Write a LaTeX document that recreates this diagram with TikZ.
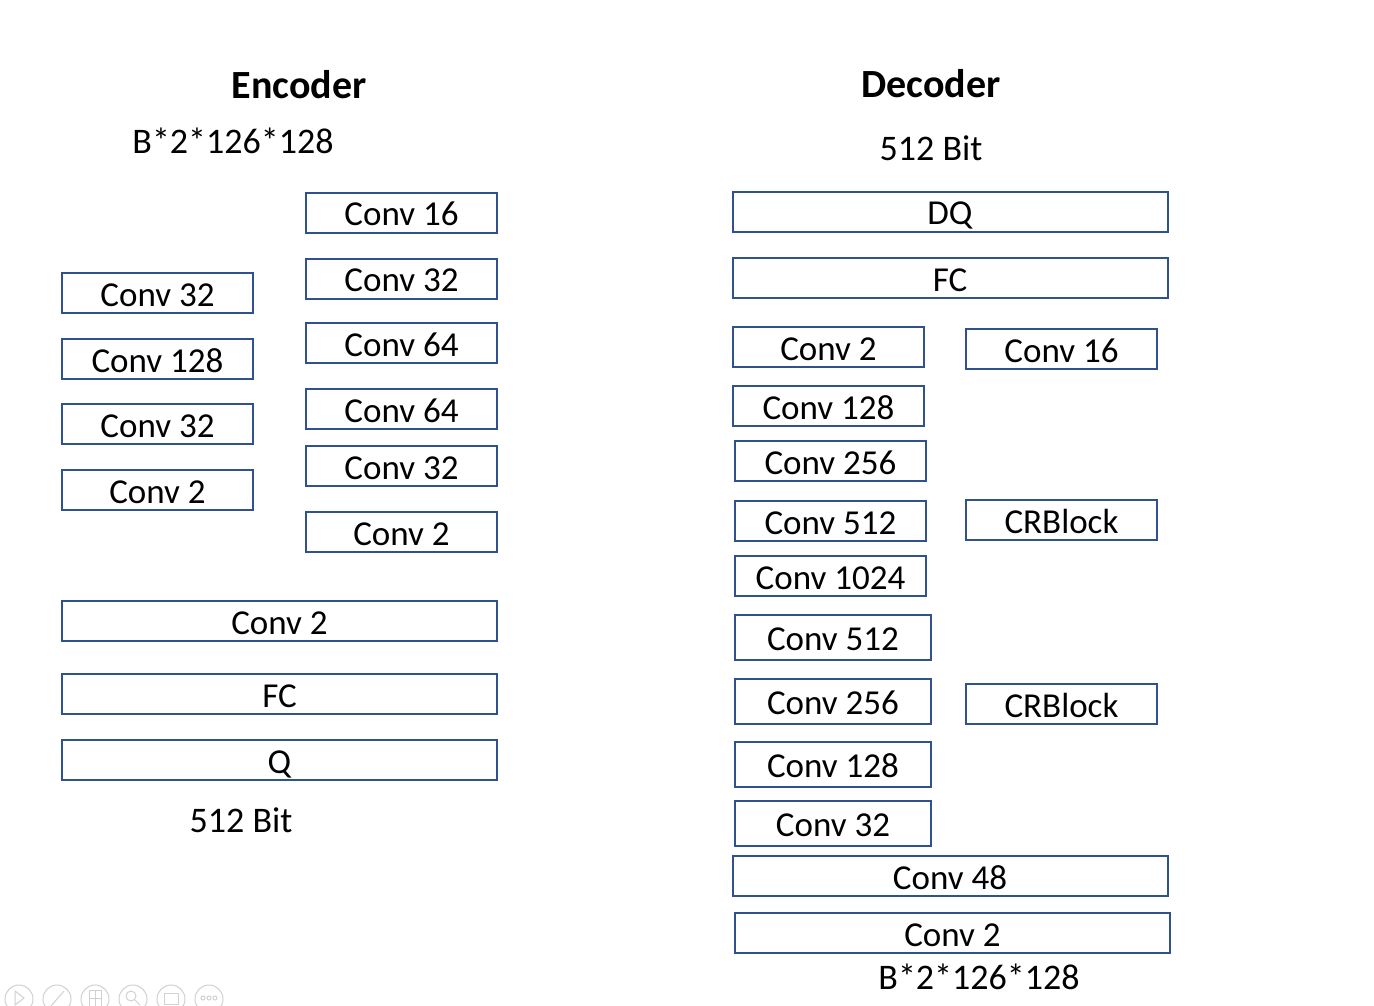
\documentclass[tikz,border=0pt]{standalone}
\usepackage{fontspec}
\setmainfont{Carlito}
\definecolor{boxblue}{HTML}{2F528F}
\begin{document}
\begin{tikzpicture}[x=1pt,y=-1pt,
  layer/.style={draw=boxblue,line width=2pt,inner sep=0pt,text height=26pt,text depth=0pt,font=\fontsize{35}{42}\selectfont},
  narrow/.style={layer,minimum width=191pt,minimum height=40pt},
  wide/.style={layer,minimum width=435pt,minimum height=40pt},
  tallbox/.style={layer,minimum width=196pt,minimum height=45pt},
  heading/.style={font=\fontsize{40}{48}\selectfont\bfseries,inner sep=0pt},
  dims/.style={font=\fontsize{36}{42}\selectfont,inner sep=0pt},
  toolbtn/.style={draw=black!18,line width=1pt}]
\fill[white] (0,0) rectangle (1374,1006);
\useasboundingbox (0,0) rectangle (1374,1006);

\node[heading] (enc) at (299,85) {Encoder};
\node[dims] (encin) at (233,141) {B*2*126*128};
\node[narrow] (e1) at (157.5,293) {Conv 32};
\node[narrow] (e2) at (157.5,359) {Conv 128};
\node[narrow] (e3) at (157.5,424) {Conv 32};
\node[narrow] (e4) at (157.5,490) {Conv 2};
\node[narrow] (r1) at (401.5,212.5) {Conv 16};
\node[narrow] (r2) at (401.5,278.5) {Conv 32};
\node[narrow] (r3) at (401.5,343) {Conv 64};
\node[narrow] (r4) at (401.5,409) {Conv 64};
\node[narrow] (r5) at (401.5,466) {Conv 32};
\node[narrow] (r6) at (401.5,532) {Conv 2};
\node[wide] (ecv) at (279.5,621) {Conv 2};
\node[wide] (efc) at (279.5,694) {FC};
\node[wide] (eq) at (279.5,760) {Q};
\node[dims] (encout) at (241,820) {512 Bit};

\node[heading] (dec) at (931,84) {Decoder};
\node[dims] (decin) at (931,148) {512 Bit};
\node[wide] (ddq) at (950,211.5) {DQ};
\node[wide] (dfc) at (950,278) {FC};
\node[narrow] (d1) at (828.5,347) {Conv 2};
\node[narrow] (d2) at (828.5,406) {Conv 128};
\node[narrow] (d3) at (830.5,461) {Conv 256};
\node[narrow] (d4) at (830.5,521) {Conv 512};
\node[narrow] (d5) at (830.5,576) {Conv 1024};
\node[tallbox] (d6) at (833,637.5) {Conv 512};
\node[tallbox] (d7) at (833,701.5) {Conv 256};
\node[tallbox] (d8) at (833,764.5) {Conv 128};
\node[tallbox] (d9) at (833,823.5) {Conv 32};
\node[narrow] (c1) at (1061.5,349) {Conv 16};
\node[narrow] (c2) at (1061.5,520) {CRBlock};
\node[narrow] (c3) at (1061.5,704) {CRBlock};
\node[wide] (dcv) at (950,876) {Conv 48};
\node[wide] (dout) at (952.5,933) {Conv 2};
\node[dims] (decout) at (979,977) {B*2*126*128};

\foreach \i in {0,...,5}
  \draw[toolbtn] (19+38*\i,999) circle (14);
\draw[toolbtn] (15,991) -- (24,998) -- (15,1005) -- cycle;
\draw[toolbtn] (51,1006) -- (64,991);
\draw[toolbtn] (89,990) rectangle (101,1006) (95,990) -- (95,1006) (89,998) -- (101,998);
\draw[toolbtn] (131,996) circle (5) (135,1000) -- (140,1005);
\draw[toolbtn] (164,993) rectangle (178,1004);
\foreach \i in {0,1,2}
  \draw[toolbtn] (203+6*\i,998) circle (2);
\end{tikzpicture}
\end{document}
